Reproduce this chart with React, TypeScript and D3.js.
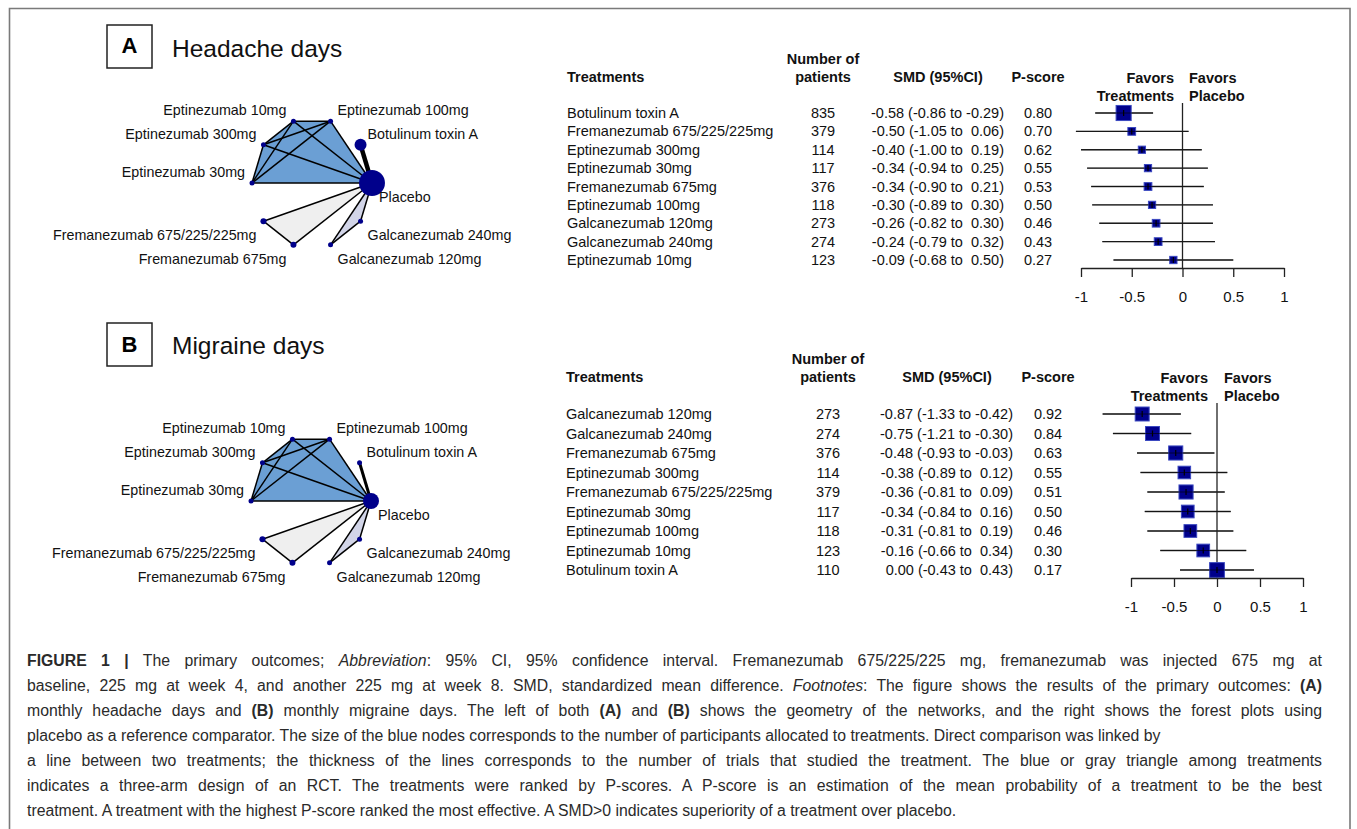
import { useEffect, useRef } from "react";
import * as d3 from "d3";

const W = 1357;
const H = 829;
const FONT = "'Liberation Sans', Arial, sans-serif";

// network nodes in circular order, starting at Placebo and going counter-clockwise
const netNodes = [
  "Placebo",
  "Botulinum toxin A",
  "Eptinezumab 100mg",
  "Eptinezumab 10mg",
  "Eptinezumab 300mg",
  "Eptinezumab 30mg",
  "Fremanezumab 675/225/225mg",
  "Fremanezumab 675mg",
  "Galcanezumab 120mg",
  "Galcanezumab 240mg",
];
const blueArm = ["Placebo", "Eptinezumab 100mg", "Eptinezumab 10mg", "Eptinezumab 300mg", "Eptinezumab 30mg"];
const grayArm = ["Placebo", "Fremanezumab 675/225/225mg", "Fremanezumab 675mg"];
const lavenderArm = ["Placebo", "Galcanezumab 120mg", "Galcanezumab 240mg"];
const placeboPatientsA = 1900;
const placeboPatientsB = 1140;
const botoxTrialsA = 3;
const botoxTrialsB = 2;

// (A) headache days
const treatmentsA = [
  "Botulinum toxin A",
  "Fremanezumab 675/225/225mg",
  "Eptinezumab 300mg",
  "Eptinezumab 30mg",
  "Fremanezumab 675mg",
  "Eptinezumab 100mg",
  "Galcanezumab 120mg",
  "Galcanezumab 240mg",
  "Eptinezumab 10mg",
];
const patientsA = [835, 379, 114, 117, 376, 118, 273, 274, 123];
const smdA = [-0.58, -0.5, -0.4, -0.34, -0.34, -0.3, -0.26, -0.24, -0.09];
const lowerA = [-0.86, -1.05, -1.0, -0.94, -0.9, -0.89, -0.82, -0.79, -0.68];
const upperA = [-0.29, 0.06, 0.19, 0.25, 0.21, 0.3, 0.3, 0.32, 0.5];
const pscoreA = [0.8, 0.7, 0.62, 0.55, 0.53, 0.5, 0.46, 0.43, 0.27];

// (B) migraine days
const treatmentsB = [
  "Galcanezumab 120mg",
  "Galcanezumab 240mg",
  "Fremanezumab 675mg",
  "Eptinezumab 300mg",
  "Fremanezumab 675/225/225mg",
  "Eptinezumab 30mg",
  "Eptinezumab 100mg",
  "Eptinezumab 10mg",
  "Botulinum toxin A",
];
const patientsB = [273, 274, 376, 114, 379, 117, 118, 123, 110];
const smdB = [-0.87, -0.75, -0.48, -0.38, -0.36, -0.34, -0.31, -0.16, 0.0];
const lowerB = [-1.33, -1.21, -0.93, -0.89, -0.81, -0.84, -0.81, -0.66, -0.43];
const upperB = [-0.42, -0.3, -0.03, 0.12, 0.09, 0.16, 0.19, 0.34, 0.43];
const pscoreB = [0.92, 0.84, 0.63, 0.55, 0.51, 0.5, 0.46, 0.3, 0.17];

const axisTicks = [-1, -0.5, 0, 0.5, 1];

// caption lines; the boolean marks lines that are justified to the right margin
const captionLines: [string, string][][] = [
  [["FIGURE 1 |", "b"], [" The primary outcomes; ", ""], ["Abbreviation", "i"], [": 95% CI, 95% confidence interval. Fremanezumab 675/225/225 mg, fremanezumab was injected 675 mg at", ""]],
  [["baseline, 225 mg at week 4, and another 225 mg at week 8. SMD, standardized mean difference. ", ""], ["Footnotes", "i"], [": The figure shows the results of the primary outcomes: ", ""], ["(A)", "b"]],
  [["monthly headache days and ", ""], ["(B)", "b"], [" monthly migraine days. The left of both ", ""], ["(A)", "b"], [" and ", ""], ["(B)", "b"], [" shows the geometry of the networks, and the right shows the forest plots using", ""]],
  [["placebo as a reference comparator. The size of the blue nodes corresponds to the number of participants allocated to treatments. Direct comparison was linked by", ""]],
  [["a line between two treatments; the thickness of the lines corresponds to the number of trials that studied the treatment. The blue or gray triangle among treatments", ""]],
  [["indicates a three-arm design of an RCT. The treatments were ranked by P-scores. A P-score is an estimation of the mean probability of a treatment to be the best", ""]],
  [["treatment. A treatment with the highest P-score ranked the most effective. A SMD>0 indicates superiority of a treatment over placebo.", ""]],
];
const captionJustified = [true, true, true, false, true, true, false];

const fmt = (v: number) => (v < 0 ? "-" : " ") + Math.abs(v).toFixed(2);

function Network({ cx, cy, patients, placeboPatients, botoxTrials }: any) {
  const angle = d3.scaleLinear().domain([0, netNodes.length]).range([0, 2 * Math.PI]);
  const pos = new Map<string, [number, number]>(
    netNodes.map((name, i) => [name, [cx + 60 * Math.cos(angle(i)), cy - 65 * Math.sin(angle(i))]])
  );
  const size = d3.scaleLinear().domain([300, 835]).range([2.5, 6]);
  const width = d3.scaleLinear().domain([1, 3]).range([1.5, 4.5]);
  const edges: { a: string; b: string; trials: number }[] = [];
  [blueArm, grayArm, lavenderArm].forEach((arm) => {
    for (let i = 0; i < arm.length; i++)
      for (let j = i + 1; j < arm.length; j++) edges.push({ a: arm[i], b: arm[j], trials: 1 });
  });
  edges.push({ a: "Placebo", b: "Botulinum toxin A", trials: botoxTrials });
  const hull = d3.polygonHull(blueArm.map((n) => pos.get(n)!))!;
  const poly = (pts: [number, number][]) => pts.map((p) => p.join(",")).join(" ");
  return (
    <g>
      <polygon points={poly(hull)} fill="#6b9fd4" />
      <polygon points={poly(grayArm.map((n) => pos.get(n)!))} fill="#efefef" />
      <polygon points={poly(lavenderArm.map((n) => pos.get(n)!))} fill="#d2d5e8" />
      {edges.map((e, i) => {
        const [x1, y1] = pos.get(e.a)!;
        const [x2, y2] = pos.get(e.b)!;
        return <line key={i} x1={x1} y1={y1} x2={x2} y2={y2} stroke="#000" strokeWidth={width(e.trials)} />;
      })}
      {netNodes.map((name) => {
        const [x, y] = pos.get(name)!;
        const n = name === "Placebo" ? placeboPatients : patients.get(name);
        return <circle key={name} cx={x} cy={y} r={Math.max(2.5, size(n))} fill="#00008b" />;
      })}
      {netNodes.map((name, i) => {
        const [x, y] = pos.get(name)!;
        const a = angle(i);
        const c = Math.cos(a);
        const upper = a > 0.01 && a < Math.PI + 0.01;
        return (
          <text
            key={name}
            x={x + (c >= 0 ? 7 : -7)}
            y={y + (upper ? -6 : 19)}
            textAnchor={c >= 0 ? "start" : "end"}
            fontSize={14.3}
            fill="#111"
          >
            {name}
          </text>
        );
      })}
    </g>
  );
}

function Axis({ scale, y }: any) {
  const ref = useRef<SVGGElement>(null);
  useEffect(() => {
    const g = d3.select(ref.current!);
    g.selectAll("*").remove();
    g.call(
      d3
        .axisBottom(scale)
        .tickValues(axisTicks)
        .tickFormat((d: any) => String(d))
        .tickSize(9)
        .tickSizeOuter(0)
        .tickPadding(14)
    );
    g.attr("font-family", FONT).attr("font-size", 15);
    g.select(".domain").attr("stroke", "#222").attr("stroke-width", 1.3);
    g.selectAll(".tick line").attr("stroke", "#222").attr("stroke-width", 1.3);
    g.selectAll(".tick text").attr("fill", "#111");
  }, [scale, y]);
  return <g ref={ref} transform={`translate(0,${y})`} />;
}

function Forest({ cfg }: any) {
  const { treatments, patients, smd, lower, upper, pscore } = cfg;
  const row = d3.scalePoint<number>().domain(d3.range(treatments.length)).range(cfg.rows);
  const x = d3.scaleLinear().domain([-1, 1]).range(cfg.xRange);
  const head = cfg.headY;
  return (
    <g fontSize={14.5} fill="#111">
      <g fontWeight="bold">
        <text x={cfg.colName} y={head}>Treatments</text>
        <text x={cfg.colN} y={head - 18} textAnchor="middle">Number of</text>
        <text x={cfg.colN} y={head} textAnchor="middle">patients</text>
        <text x={cfg.colSmd} y={head} textAnchor="middle">SMD (95%CI)</text>
        <text x={cfg.colP} y={head} textAnchor="middle">P-score</text>
        <text x={cfg.favL} y={head + 1} textAnchor="end">Favors</text>
        <text x={cfg.favL} y={head + 19} textAnchor="end">Treatments</text>
        <text x={cfg.favR} y={head + 1}>Favors</text>
        <text x={cfg.favR} y={head + 19}>Placebo</text>
      </g>
      {treatments.map((t: string, i: number) => {
        const y = row(i)! + 5;
        return (
          <g key={t}>
            <text x={cfg.colName} y={y}>{t}</text>
            <text x={cfg.colN} y={y} textAnchor="middle">{patients[i]}</text>
            <text x={cfg.colSmdEnd} y={y} textAnchor="end" style={{ whiteSpace: "pre" }}>
              {`${fmt(smd[i]).trim()} (${fmt(lower[i]).trim()} to ${fmt(upper[i])})`}
            </text>
            <text x={cfg.colP} y={y} textAnchor="middle">{pscore[i].toFixed(2)}</text>
          </g>
        );
      })}
      <line x1={x(0)} x2={x(0)} y1={cfg.refTop} y2={cfg.axisY} stroke="#222" strokeWidth={1.3} />
      {treatments.map((t: string, i: number) => {
        const y = row(i)!;
        const s = cfg.k / (upper[i] - lower[i]);
        return (
          <g key={t}>
            <line x1={x(lower[i])} x2={x(upper[i])} y1={y} y2={y} stroke="#333" strokeWidth={1.3} />
            <rect x={x(smd[i]) - s / 2} y={y - s / 2} width={s} height={s} fill="#00008b" stroke="#3a48c0" strokeWidth={1} />
            <line x1={x(lower[i])} x2={x(upper[i])} y1={y} y2={y} stroke="#000" strokeWidth={1} strokeOpacity={0.6} />
            <line x1={x(smd[i])} x2={x(smd[i])} y1={y - 3} y2={y + 3} stroke="#000" strokeWidth={1.2} />
          </g>
        );
      })}
      <Axis scale={x} y={cfg.axisY} />
    </g>
  );
}

function Caption() {
  const ref = useRef<SVGGElement>(null);
  const left = 27;
  const right = 1322;
  useEffect(() => {
    d3.select(ref.current!)
      .selectAll<SVGTextElement, unknown>("text")
      .each(function (_, i) {
        if (!captionJustified[i]) return;
        this.setAttribute("word-spacing", "0");
        const len = this.getComputedTextLength();
        const spaces = (this.textContent || "").split(" ").length - 1;
        if (spaces > 0) this.setAttribute("word-spacing", String((right - left - len) / spaces));
      });
  }, []);
  return (
    <g ref={ref} fontSize={15.8} fill="#2a2a2a">
      {captionLines.map((segs, li) => (
        <text key={li} x={left} y={666 + li * 25} style={{ whiteSpace: "pre" }}>
          {segs.map(([t, s], si) => (
            <tspan key={si} fontWeight={s === "b" ? "bold" : undefined} fontStyle={s === "i" ? "italic" : undefined}>
              {t}
            </tspan>
          ))}
        </text>
      ))}
    </g>
  );
}

const toMap = (names: string[], vals: number[]) => new Map(names.map((n, i) => [n, vals[i]]));

export default function App() {
  const cfgA = {
    treatments: treatmentsA, patients: patientsA, smd: smdA, lower: lowerA, upper: upperA, pscore: pscoreA,
    rows: [113, 260], xRange: [1081, 1284], headY: 82, colName: 567, colN: 823, colSmd: 938, colSmdEnd: 1004,
    colP: 1038, favL: 1174, favR: 1189, refTop: 103, axisY: 268, k: 8.6,
  };
  const cfgB = {
    treatments: treatmentsB, patients: patientsB, smd: smdB, lower: lowerB, upper: upperB, pscore: pscoreB,
    rows: [414, 570], xRange: [1131, 1303], headY: 382, colName: 566, colN: 828, colSmd: 947, colSmdEnd: 1013,
    colP: 1048, favL: 1208, favR: 1224, refTop: 403, axisY: 578, k: 12.7,
  };
  return (
    <div style={{ position: "absolute", left: 0, top: 0 }}>
      <svg width={W} height={H} fontFamily={FONT} style={{ display: "block", background: "#fff" }}>
        <path d={`M9.5,${H}V8.5H1350V${H}`} fill="none" stroke="#7a7a7a" strokeWidth={1.6} />

        <rect x={107} y={25} width={45} height={43} fill="none" stroke="#222" strokeWidth={1.5} />
        <text x={129.5} y={52.5} textAnchor="middle" fontSize={22} fontWeight="bold">A</text>
        <text x={172} y={57} fontSize={24.5} fill="#111">Headache days</text>
        <Network cx={312} cy={183} patients={toMap(treatmentsA, patientsA)} placeboPatients={placeboPatientsA} botoxTrials={botoxTrialsA} />
        <Forest cfg={cfgA} />

        <rect x={107} y={323} width={45} height={43} fill="none" stroke="#222" strokeWidth={1.5} />
        <text x={129.5} y={352} textAnchor="middle" fontSize={22} fontWeight="bold">B</text>
        <text x={172} y={354} fontSize={24.5} fill="#111">Migraine days</text>
        <Network cx={311} cy={501} patients={toMap(treatmentsB, patientsB)} placeboPatients={placeboPatientsB} botoxTrials={botoxTrialsB} />
        <Forest cfg={cfgB} />

        <Caption />
      </svg>
    </div>
  );
}
